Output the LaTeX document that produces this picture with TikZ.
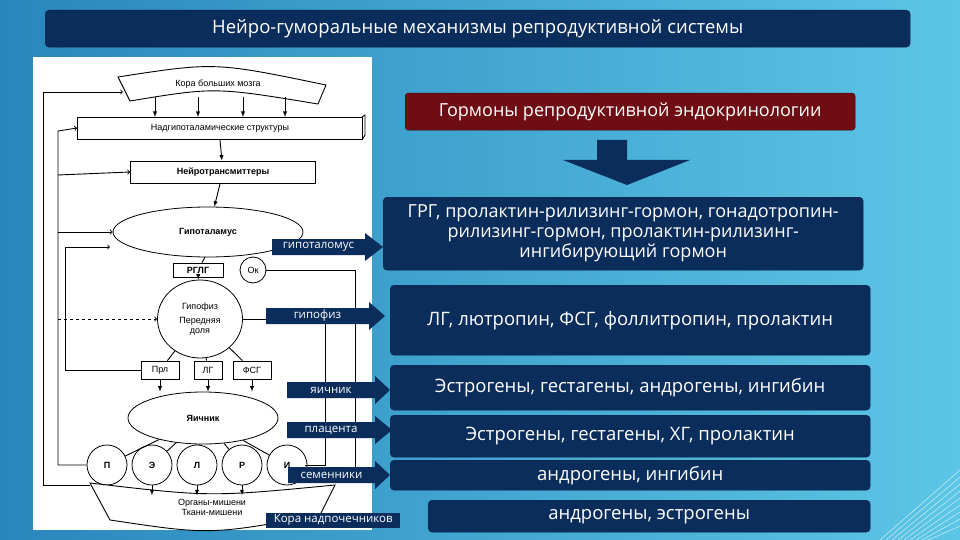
\documentclass[tikz,border=0pt]{standalone}
\usepackage{fontspec}
\setmainfont{Open Sans}
\newfontfamily\scanfont{Liberation Sans}
\usetikzlibrary{shapes.geometric,shapes.arrows}
\definecolor{navy}{HTML}{0B2D5C}
\definecolor{maroon}{HTML}{6E0E14}
\definecolor{bgdark}{HTML}{2A86BC}
\definecolor{bglight}{HTML}{5CC6E6}
\begin{document}
\begin{tikzpicture}[x=1pt,y=-1pt,
  navybox/.style={fill=navy,rounded corners=4pt,draw=navy!70!black},
  bt/.style={text=white,font=\fontsize{18.5}{21}\selectfont,align=center},
  lab/.style={fill=navy,text=white,font=\fontsize{11.5}{12}\selectfont,inner sep=2pt,minimum height=15pt,anchor=west},
  sc/.style={font=\scanfont\fontsize{9}{10}\selectfont},
  scb/.style={font=\scanfont\bfseries\fontsize{9}{10}\selectfont},
  ln/.style={line width=0.9pt,black},
  ar/.style={ln,-latex}]
\useasboundingbox (0,0) rectangle (960,540);
\shade[left color=bgdark,right color=bglight] (0,0) rectangle (960,540);
\foreach \i in {0,...,8}{\draw[white,opacity=0.7,line width=0.5pt] (880+\i*6,540) -- (960,470+\i*7);}
% title
\node[navybox,minimum width=865pt,minimum height=37pt,anchor=north west] (title) at (45,10) {};
\node[bt,font=\fontsize{18.5}{20}\selectfont] at (title) {Нейро-гуморальные механизмы репродуктивной системы};
% scan
\node[fill=white,minimum width=339pt,minimum height=473pt,anchor=north west,inner sep=0] (scan) at (33,57) {};
\draw[ln,fill=white] (118,77) .. controls (215,62) .. (326,85) -- (318,104) .. controls (215,87) .. (130,101) -- cycle;
\node[sc] (kbm) at (218,84) {Кора больших мозга};
\coordinate (kbmw) at (123,92);
\node[sc,draw,thick,minimum width=285pt,minimum height=22pt] (ngs) at (220,128) {Надгипоталамические структуры};
\draw[ln] (362,117)--(365,115)--(365,135)--(362,140);
\foreach \x in {155,198,243,285}{\draw[ar] (\x,97) -- (\x,117);}
\node[scb,draw,thick,minimum width=185pt,minimum height=22pt] (nt) at (223,172) {Нейротрансмиттеры};
\draw[ar] (220,140) -- (nt);
\node[scb,draw,thick,ellipse,minimum width=190pt,minimum height=50pt] (hyp) at (208,232) {Гипоталамус};
\draw[ar] (nt) -- (hyp);
\node[scb,draw,thick,minimum width=50pt,minimum height=14pt] (rglg) at (198,270) {РГЛГ};
\node[sc,draw,thick,circle,minimum size=26pt] (ok) at (253,270) {Ок};
\draw[ln] (205,257) -- (rglg);
\node[sc,draw,thick,ellipse,minimum width=85pt,minimum height=78pt,align=center] (pit) at (200,319) {Гипофиз\\[4pt]Передняя\\доля};
\draw[ar] (rglg) -- (pit);
\node[sc,draw,thick,minimum width=38pt,minimum height=18pt] (prl) at (160,370) {Прл};
\node[sc,draw,thick,minimum width=28pt,minimum height=18pt] (lg) at (208,370) {ЛГ};
\node[sc,draw,thick,minimum width=38pt,minimum height=18pt] (fsg) at (252,370) {ФСГ};
\foreach \n in {prl,lg,fsg}{\draw[ln] (pit) -- (\n);}
\node[scb,draw,thick,ellipse,minimum width=150pt,minimum height=52pt] (ov) at (203,418) {Яичник};
\foreach \n in {prl,lg,fsg}{\draw[ar] (\n) -- (\n |- ov.north);}
\foreach \l/\x in {П/107,Э/152,Л/197,Р/242,И/287}{
  \node[scb,draw,thick,circle,minimum size=40pt] (c\l) at (\x,465) {\l};
  \draw[ln] (ov) -- (c\l);}
\draw[ln,fill=white] (90,483) .. controls (210,497) .. (335,485) -- (320,515) .. controls (210,535) .. (110,520) -- cycle;
\node[sc,align=center] (org) at (212,507) {Органы-мишени\\Ткани-мишени};
\foreach \l in {Э,Л,Р}{\draw[ar] (c\l) -- (c\l |- org.north);}
\draw[ln,->] (90,485) -- (43,485) -- (43,92) -- (kbmw);
\draw[ln,->] (cП.west) -- (58,465) -- (58,131) -- (ngs.west);
\draw[ln,->] (58,175) -- (nt.west);
\draw[ln,->] (58,232) -- (hyp.west);
\draw[ln,dashed,->] (58,319) -- (pit.west);
\draw[ln,->] (prl.west) -- (65,370) -- (65,247) -- (110,247);
\draw[ln] (ok.east) -- (355,270) -- (355,480);
\draw[ln] (pit.east) -- (325,319) -- (325,465) -- (305,465);
% right side
\node[fill=maroon,draw=maroon!60!black,rounded corners=3pt,minimum width=450pt,minimum height=37pt,anchor=north west] (mar) at (405,93) {};
\node[bt,font=\fontsize{18}{20}\selectfont] at (mar) {Гормоны репродуктивной эндокринологии};
\fill[navy] (597,140) -- (627,140) -- (627,160) -- (690,160) -- (627,185) -- (563,160) -- (597,160) -- cycle;
\node[navybox,minimum width=480pt,minimum height=73pt,anchor=north west] (b1) at (383,197) {};
\node[bt,font=\fontsize{18}{20}\selectfont] at (b1) {ГРГ, пролактин-рилизинг-гормон, гонадотропин-\\рилизинг-гормон, пролактин-рилизинг-\\ингибирующий гормон};
\node[navybox,minimum width=480pt,minimum height=70pt,anchor=north west] (b2) at (390,285) {};
\node[bt] at (b2) {ЛГ, лютропин, ФСГ, фоллитропин, пролактин};
\node[navybox,minimum width=480pt,minimum height=45pt,anchor=north west] (b3) at (390,365) {};
\node[bt] at (b3) {Эстрогены, гестагены, андрогены, ингибин};
\node[navybox,minimum width=480pt,minimum height=42pt,anchor=north west] (b4) at (390,415) {};
\node[bt] at (b4) {Эстрогены, гестагены, ХГ, пролактин};
\node[navybox,minimum width=480pt,minimum height=30pt,anchor=north west] (b5) at (390,460) {};
\node[bt] at (b5) {андрогены, ингибин};
\node[navybox,minimum width=442pt,minimum height=32pt,anchor=north west] (b6) at (428,500) {};
\node[bt] at (b6) {андрогены, эстрогены};
\foreach \n/\t/\x/\w/\y/\tip in {a1/гипоталомус/272/93/247/383,a2/гипофиз/266/103/316/385,a3/яичник/287/88/390/390,a4/плацента/287/88/430/392,a5/семенники/288/87/475/390}{
  \fill[navy] (\x,\y-8) -- (\x+\w,\y-8) -- (\x+\w,\y-14) -- (\tip,\y) -- (\x+\w,\y+14) -- (\x+\w,\y+8) -- (\x,\y+8) -- cycle;
  \node[text=white,font=\fontsize{11.5}{12}\selectfont] (\n) at (\x+\w/2,\y) {\t};}
\node[lab,minimum width=134pt] (a6) at (266,520) {Кора надпочечников};
\end{tikzpicture}
\end{document}
